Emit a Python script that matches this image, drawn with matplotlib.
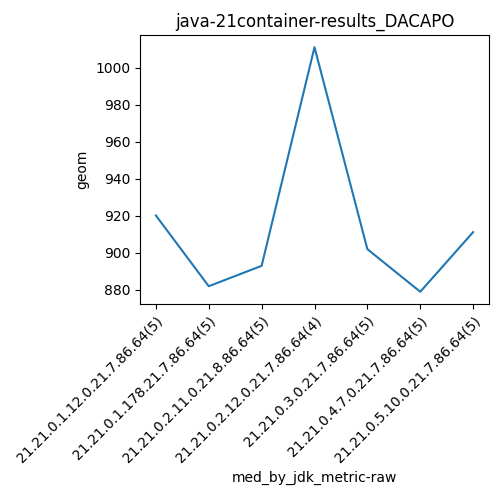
import matplotlib
matplotlib.use('Agg')
import matplotlib.pyplot as plt

# jdk builds on x, geometric mean on y
jdks = ['21.21.0.1.12.0.21.7.86.64(5)', '21.21.0.1.178.21.7.86.64(5)',
        '21.21.0.2.11.0.21.8.86.64(5)', '21.21.0.2.12.0.21.7.86.64(4)',
        '21.21.0.3.0.21.7.86.64(5)', '21.21.0.4.7.0.21.7.86.64(5)',
        '21.21.0.5.10.0.21.7.86.64(5)']
geom = [920.2, 882.0, 893.0, 1011.0, 902.0, 879.0, 911.2]

fig, ax = plt.subplots(figsize=(5, 5), dpi=100)
ax.plot(jdks, geom)
ax.set_title('java-21container-results_DACAPO')
ax.set_xlabel('med_by_jdk_metric-raw')
ax.set_ylabel('geom')
plt.setp(ax.get_xticklabels(), rotation=45, ha='right', rotation_mode='anchor')
fig.subplots_adjust(left=0.28, right=0.978, top=0.93, bottom=0.392)
fig.savefig('out.png')
